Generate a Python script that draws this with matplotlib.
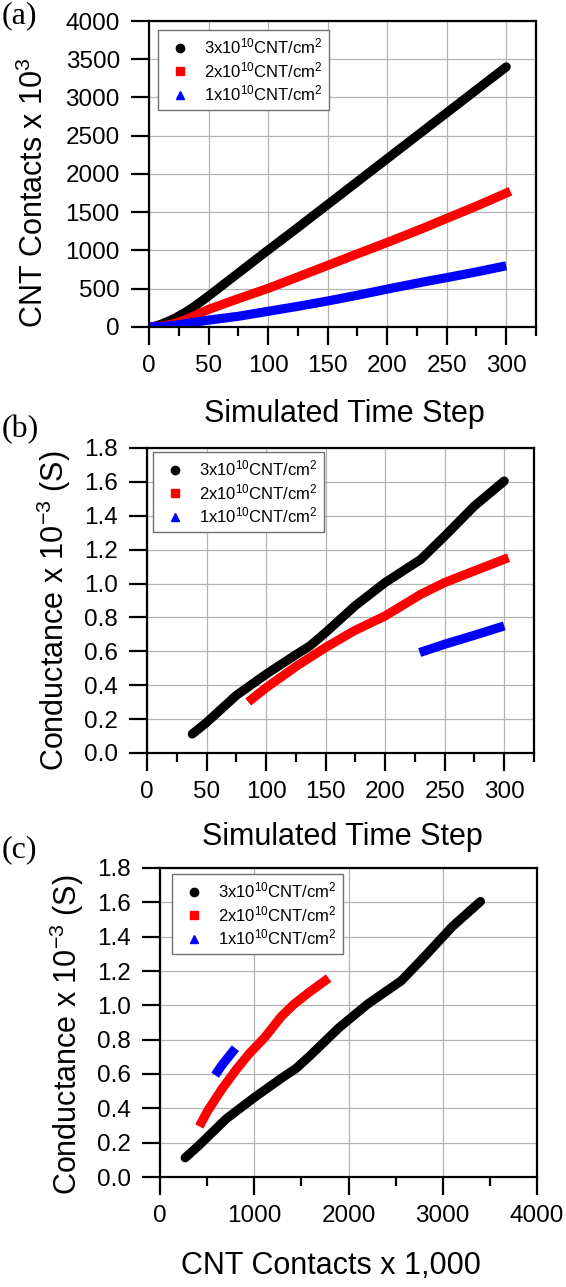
import numpy as np
import matplotlib
matplotlib.use("Agg")
import matplotlib.pyplot as plt
from matplotlib.ticker import MultipleLocator, FormatStrFormatter
from matplotlib.lines import Line2D

plt.rcParams['font.family'] = ['Liberation Sans', 'DejaVu Sans']
plt.rcParams['mathtext.fontset'] = 'custom'
plt.rcParams['mathtext.rm'] = 'Liberation Sans'
plt.rcParams['mathtext.it'] = 'Liberation Sans:italic'
plt.rcParams['mathtext.bf'] = 'Liberation Sans:bold'
plt.rcParams['mathtext.default'] = 'regular'

nan = np.nan
series_labels = [r'3x10$^{10}$CNT/cm$^2$', r'2x10$^{10}$CNT/cm$^2$', r'1x10$^{10}$CNT/cm$^2$']
series_colors = ['#000000', '#ff0000', '#0000ff']
series_markers = ['o', 's', '^']

# 3x10^10 CNT/cm^2
t_black = [0, 5, 10, 20, 30, 38, 50, 75, 100, 125, 137, 150, 175, 200, 230, 250, 275, 300]
contacts_black = [0, 10, 35, 100, 187, 267, 405, 705, 1005, 1300, 1445, 1600, 1900, 2200, 2560, 2800, 3100, 3400]
cond_black = [nan, nan, nan, nan, nan, 0.112, 0.18, 0.34, 0.465, 0.58, 0.633, 0.711, 0.87, 1.006, 1.143, 1.28, 1.458, 1.605]

# 2x10^10 CNT/cm^2
t_red = [0, 10, 20, 30, 50, 75, 88, 100, 126, 150, 174, 200, 230, 250, 275, 300]
contacts_red = [0, 10, 40, 90, 230, 370, 440, 505, 660, 805, 950, 1105, 1290, 1420, 1580, 1750]
cond_red = [nan, nan, nan, nan, nan, nan, 0.318, 0.385, 0.515, 0.623, 0.721, 0.809, 0.937, 1.006, 1.075, 1.143]

# 1x10^10 CNT/cm^2
t_blue = [0, 10, 25, 50, 75, 100, 125, 150, 175, 200, 229, 250, 275, 300]
contacts_blue = [0, 5, 30, 90, 140, 205, 270, 340, 415, 495, 585, 645, 720, 800]
cond_blue = [nan, nan, nan, nan, nan, nan, nan, nan, nan, nan, 0.593, 0.642, 0.695, 0.75]

ts = [t_black, t_red, t_blue]
contacts = [contacts_black, contacts_red, contacts_blue]
conds = [cond_black, cond_red, cond_blue]

W, H = 566, 1287
fig = plt.figure(figsize=(W / 100, H / 100), dpi=100)

def ax_rect(l, r, t, b):
    return [l / W, 1 - b / H, (r - l) / W, (b - t) / H]

axA = fig.add_axes(ax_rect(149, 536, 21, 327))
axB = fig.add_axes(ax_rect(147, 534, 448, 753))
axC = fig.add_axes(ax_rect(160, 537, 868, 1177))

LW = 6.6
caps = ['round', 'projecting', 'butt']

def draw(ax, xs, ys):
    for i in range(3):
        x = np.array(xs[i], dtype=float)
        y = np.array(ys[i], dtype=float)
        m = ~np.isnan(y)
        ax.plot(x[m], y[m], color=series_colors[i], lw=LW,
                solid_capstyle=caps[i], solid_joinstyle='round', zorder=3 + i)

draw(axA, ts, contacts)
draw(axB, ts, conds)
draw(axC, contacts, conds)

def style(ax, xlim, xmaj, xmin, ylim, ymaj, yfmt, xlabel, ylabel, xl_coords, yl_coords, leg_off):
    ax.set_xlim(*xlim)
    ax.set_ylim(*ylim)
    ax.xaxis.set_major_locator(MultipleLocator(xmaj))
    ax.xaxis.set_minor_locator(MultipleLocator(xmin))
    ax.yaxis.set_major_locator(MultipleLocator(ymaj))
    if yfmt:
        ax.yaxis.set_major_formatter(FormatStrFormatter(yfmt))
    ax.grid(True, which='major', color='#b4b4b4', lw=0.9, zorder=0)
    ax.set_axisbelow(True)
    for s in ax.spines.values():
        s.set_linewidth(1.6)
        s.set_zorder(10)
    ax.tick_params(axis='both', which='major', direction='out', length=13, width=1.6,
                   labelsize=17.5, top=False, right=False)
    ax.tick_params(axis='x', which='major', pad=7)
    ax.tick_params(axis='y', which='major', pad=8)
    ax.tick_params(axis='x', which='minor', direction='out', length=6.5, width=1.6, top=False)
    ax.tick_params(axis='y', which='minor', left=False, right=False)
    ax.set_xlabel(xlabel, fontsize=22)
    ax.set_ylabel(ylabel, fontsize=22)
    ax.xaxis.set_label_coords(*xl_coords)
    ax.yaxis.set_label_coords(*yl_coords)
    handles = [Line2D([], [], ls='none', marker=series_markers[i], color=series_colors[i],
                      markersize=6) for i in range(3)]
    leg = ax.legend(handles, series_labels, loc='upper left',
                    bbox_to_anchor=leg_off, borderaxespad=0, fontsize=12,
                    frameon=True, fancybox=False, framealpha=1, edgecolor='#707070',
                    handlelength=1.8, handletextpad=0.55, labelspacing=0.22,
                    borderpad=0.4)
    leg.get_frame().set_linewidth(1.0)
    leg.set_zorder(20)

style(axA, (0, 325), 50, 25, (0, 4000), 500, None,
      'Simulated Time Step', r'CNT Contacts x 10$^3$',
      (0.506, -0.235), (-0.256, 0.44), (0.023, 0.971))
style(axB, (0, 325), 50, 25, (0, 1.8), 0.2, '%.1f',
      'Simulated Time Step', r'Conductance x 10$^{-3}$ (S)',
      (0.506, -0.226), (-0.19, 0.466), (0.016, 0.987))
style(axC, (0, 4000), 1000, 500, (0, 1.8), 0.2, '%.1f',
      'CNT Contacts x 1,000', r'Conductance x 10$^{-3}$ (S)',
      (0.454, -0.239), (-0.196, 0.46), (0.032, 0.981))

for lbl, ytop in [('(a)', 1), ('(b)', 415), ('(c)', 835)]:
    fig.text(2 / W, 1 - ytop / H, lbl, ha='left', va='top',
             family=['Liberation Serif', 'DejaVu Serif'], fontsize=23)

fig.savefig('out.png', dpi=100)
